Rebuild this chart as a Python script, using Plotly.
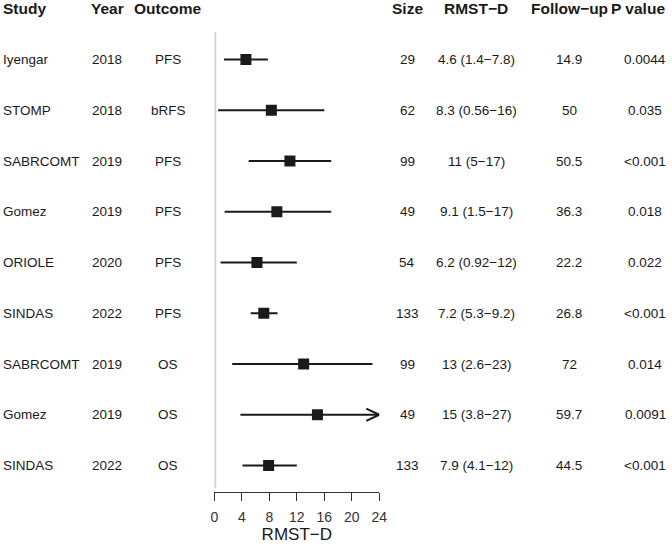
import plotly.graph_objects as go

# ---------------- data ----------------
study = ["Iyengar", "STOMP", "SABRCOMT", "Gomez", "ORIOLE", "SINDAS", "SABRCOMT", "Gomez", "SINDAS"]
year = ["2018", "2018", "2019", "2019", "2020", "2022", "2019", "2019", "2022"]
outcome = ["PFS", "bRFS", "PFS", "PFS", "PFS", "PFS", "OS", "OS", "OS"]
size = ["29", "62", "99", "49", "54", "133", "99", "49", "133"]
est = [4.6, 8.3, 11, 9.1, 6.2, 7.2, 13, 15, 7.9]
lo = [1.4, 0.56, 5, 1.5, 0.92, 5.3, 2.6, 3.8, 4.1]
hi = [7.8, 16, 17, 17, 12, 9.2, 23, 27, 12]
rmst_txt = ["4.6 (1.4\u22127.8)", "8.3 (0.56\u221216)", "11 (5\u221217)", "9.1 (1.5\u221217)",
            "6.2 (0.92\u221212)", "7.2 (5.3\u22129.2)", "13 (2.6\u221223)", "15 (3.8\u221227)",
            "7.9 (4.1\u221212)"]
follow = ["14.9", "50", "50.5", "36.3", "22.2", "26.8", "72", "59.7", "44.5"]
pval = ["0.0044", "0.035", "<0.001", "0.018", "0.022", "<0.001", "0.014", "0.0091", "<0.001"]
headers = ["Study", "Year", "Outcome", "Size", "RMST\u2212D", "Follow\u2212up", "P value"]
xticks = [0, 4, 8, 12, 16, 20, 24]
xlim = [0, 24]

# ---------------- layout constants ----------------
W, H = 672, 545
FONT = "Liberation Sans, Arial, sans-serif"
TXT = "#1a1a1a"
n = len(study)
rows = list(range(n))
row0_px, row_step = 59.5, 50.75
plot_bottom = 492
y_top = -row0_px / row_step
y_bot = (plot_bottom - row0_px) / row_step
header_row = (8 - row0_px) / row_step

fig = go.Figure()

# reference line at 0
fig.add_shape(type="line", xref="x", yref="y", x0=0, x1=0, y0=-0.54, y1=n - 1 + 0.44,
              line=dict(color="#d6d6d6", width=4), layer="below")

# CI lines (clipped at axis max), arrow where exceeding
for i in rows:
    x1 = min(hi[i], xlim[1])
    fig.add_trace(go.Scatter(x=[lo[i], x1], y=[i, i], mode="lines",
                             line=dict(color=TXT, width=2), showlegend=False,
                             hoverinfo="skip", cliponaxis=False))
    if hi[i] > xlim[1]:
        d = 1.9
        h = 0.12
        fig.add_trace(go.Scatter(x=[xlim[1] - d, xlim[1], xlim[1] - d], y=[i - h, i, i + h],
                                 mode="lines", line=dict(color=TXT, width=2),
                                 showlegend=False, hoverinfo="skip", cliponaxis=False))

# point estimates
fig.add_trace(go.Scatter(x=est, y=rows, mode="markers",
                         marker=dict(symbol="square", size=11, color=TXT),
                         showlegend=False, cliponaxis=False))

# column text
col_x = {"Study": 1, "Year": 107, "Outcome": 168, "Size": 407, "RMST": 476, "Follow": 569, "P": 645}
cols = [
    (study, col_x["Study"], "left"),
    (year, col_x["Year"], "center"),
    (outcome, col_x["Outcome"], "center"),
    (size, col_x["Size"], "center"),
    (rmst_txt, col_x["RMST"], "center"),
    (follow, col_x["Follow"], "center"),
    (pval, col_x["P"], "center"),
]
ann = []
for (vals, px, al), head in zip(cols, headers):
    hx = px if head != "P value" else 638
    ann.append(dict(x=hx / W, y=header_row, xref="paper", yref="y", text="<b>%s</b>" % head,
                    showarrow=False, xanchor=al, yanchor="middle",
                    font=dict(family=FONT, size=15.5, color=TXT)))
    for i, v in enumerate(vals):
        ann.append(dict(x=px / W, y=i, xref="paper", yref="y", text=v, showarrow=False,
                        xanchor=al, yanchor="middle",
                        font=dict(family=FONT, size=13.5, color=TXT)))

fig.update_layout(
    width=W, height=H,
    margin=dict(l=0, r=0, t=0, b=H - plot_bottom, pad=0, autoexpand=False),
    paper_bgcolor="white", plot_bgcolor="white",
    annotations=ann,
    xaxis=dict(domain=[214.3 / W, 379.3 / W], range=xlim, tickvals=xticks,
               showgrid=False, zeroline=False, showline=True, linecolor="#333333", linewidth=1,
               ticks="outside", ticklen=8, tickcolor="#333333", tickwidth=1,
               ticklabelstandoff=4,
               tickfont=dict(family=FONT, size=14, color="#333333"),
               title=dict(text="RMST\u2212D", font=dict(family=FONT, size=17, color=TXT), standoff=3),
               automargin=False, fixedrange=True),
    yaxis=dict(range=[y_bot, y_top], visible=False, fixedrange=True, automargin=False),
)

fig.write_html("out.html", config={"displayModeBar": False},
               post_script="document.body.style.margin='0';document.body.style.overflow='hidden';")
